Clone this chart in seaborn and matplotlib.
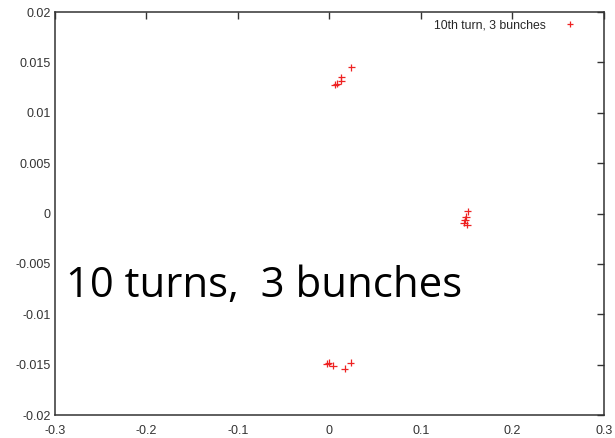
import matplotlib
matplotlib.use("Agg")
import matplotlib.pyplot as plt
import seaborn as sns
import pandas as pd

x_vals = [0.006, 0.008, 0.013, 0.013, 0.024,
          0.151, 0.149, 0.148, 0.147, 0.150,
          -0.003, -0.001, 0.004, 0.0165, 0.023]
y_vals = [0.0128, 0.0129, 0.0132, 0.0135, 0.0145,
          0.0002, -0.0003, -0.0006, -0.0009, -0.0011,
          -0.0149, -0.0148, -0.0151, -0.0154, -0.0148]
series_label = "10th turn, 3 bunches"
x_ticks = [-0.3, -0.2, -0.1, 0, 0.1, 0.2, 0.3]
y_ticks = [-0.02, -0.015, -0.01, -0.005, 0, 0.005, 0.01, 0.015, 0.02]
overlay_text = "10 turns,  3 bunches"

df = pd.DataFrame({"x": x_vals, "y": y_vals, "s": series_label})

sns.set_style("white")
plt.rcParams['font.family'] = ['Liberation Sans', 'DejaVu Sans']

fig = plt.figure(figsize=(6.15, 4.38), dpi=100)
ax = fig.add_axes([0.0894, 0.0525, 0.8927, 0.9201])
sns.scatterplot(data=df, x="x", y="y", hue="s", palette=["#ee2222"], marker="+",
                s=30, linewidth=0.9, ax=ax, legend=True)
ax.set_xlim(-0.3, 0.3)
ax.set_ylim(-0.02, 0.02)
ax.set_xticks(x_ticks)
ax.set_xticklabels([f"{t:g}" for t in x_ticks])
ax.set_yticks(y_ticks)
ax.set_yticklabels([f"{t:g}" for t in y_ticks])
ax.set_xlabel("")
ax.set_ylabel("")
ax.tick_params(direction="in", length=5, width=1, top=True, right=True,
               labelsize=9, colors="#333333", labelcolor="#333333", pad=3)
ax.tick_params(axis="x", pad=7)
for sp in ax.spines.values():
    sp.set_color("#333333")
    sp.set_linewidth(1.1)
leg = ax.legend(loc="upper right", frameon=False, markerfirst=False, fontsize=8.8,
                handletextpad=1.2, handlelength=1.5, markerscale=0.8,
                borderaxespad=0.2, bbox_to_anchor=(0.968, 1.0))
ax.text(-0.2875, -0.0083, overlay_text, fontsize=30.2, color="black",
        family=["Open Sans", "DejaVu Sans"], ha="left", va="baseline")
fig.savefig("out.png", dpi=100)
